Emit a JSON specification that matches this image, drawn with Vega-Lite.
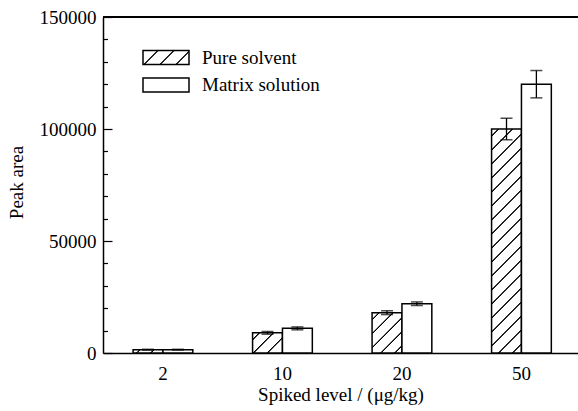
{
  "$schema": "https://vega.github.io/schema/vega-lite/v6.json",
  "width": 475,
  "height": 336,
  "autosize": {"type": "none"},
  "padding": {"left": 103, "top": 17, "right": 0, "bottom": 58},
  "background": "white",
  "config": {
    "view": {"stroke": null},
    "font": "Liberation Serif",
    "axis": {"labelOverlap": false, "labelFlush": false}
  },
  "resolve": {"scale": {"y": "shared"}, "axis": {"y": "independent"}},
  "data": {
    "values": [
      {"level": "2", "series": "Pure solvent", "value": 1500, "lo": 1350, "hi": 1650},
      {"level": "2", "series": "Matrix solution", "value": 1500, "lo": 1350, "hi": 1650},
      {"level": "10", "series": "Pure solvent", "value": 9000, "lo": 8400, "hi": 9600},
      {"level": "10", "series": "Matrix solution", "value": 11000, "lo": 10350, "hi": 11650},
      {"level": "20", "series": "Pure solvent", "value": 18000, "lo": 17150, "hi": 18850},
      {"level": "20", "series": "Matrix solution", "value": 22000, "lo": 21200, "hi": 22800},
      {"level": "50", "series": "Pure solvent", "value": 100000, "lo": 95200, "hi": 104800},
      {"level": "50", "series": "Matrix solution", "value": 120000, "lo": 113900, "hi": 126100}
    ]
  },
  "layer": [
    {
      "mark": {"type": "bar", "stroke": "black", "strokeWidth": 1.5},
      "encoding": {
        "x": {
          "field": "level", "type": "nominal",
          "scale": {"domain": ["2", "10", "20", "50"], "paddingInner": 0.5, "paddingOuter": 0.2375, "align": 0.53},
          "axis": {
            "title": "Spiked level / (μg/kg)",
            "labelAngle": 0, "ticks": false, "tickSize": 0,
            "domainColor": "black", "domainWidth": 1.5,
            "labelFont": "Liberation Serif", "labelFontSize": 19, "labelColor": "black",
            "labelPadding": 26, "labelBaseline": "alphabetic",
            "titleFont": "Liberation Serif", "titleFontSize": 19, "titleFontWeight": "normal", "titleColor": "black",
            "titleY": 47, "titleBaseline": "alphabetic"
          }
        },
        "xOffset": {
          "field": "series", "type": "nominal",
          "scale": {"domain": ["Pure solvent", "Matrix solution"], "paddingInner": 0, "paddingOuter": 0}
        },
        "y": {
          "field": "value", "type": "quantitative",
          "scale": {"domain": [0, 150000], "nice": false, "zero": true},
          "axis": {
            "orient": "left",
            "title": "Peak area",
            "values": [0, 50000, 100000, 150000],
            "format": "d",
            "labelOverlap": false,
            "tickSize": -9,
            "tickColor": "black", "tickWidth": 1.2,
            "domainColor": "black", "domainWidth": 1.5,
            "grid": false,
            "labelFont": "Liberation Serif", "labelFontSize": 19, "labelColor": "black",
            "labelPadding": 16,
            "titleFont": "Liberation Serif", "titleFontSize": 19, "titleFontWeight": "normal", "titleColor": "black",
            "titleX": -81, "titleY": 165, "titleAngle": -90, "titleBaseline": "alphabetic", "titleAlign": "center"
          }
        },
        "fill": {
          "field": "series", "type": "nominal",
          "scale": {"domain": ["Pure solvent", "Matrix solution"], "range": [{"expr": "{gradient: 'linear', x1: 0, y1: 0, x2: 1.1938, y2: 0.3633, stops: [{offset: 0, color: 'white'}, {offset: 0.23167, color: 'white'}, {offset: 0.24333, color: 'black'}, {offset: 0.25667, color: 'black'}, {offset: 0.26833, color: 'white'}, {offset: 0.49833, color: 'white'}, {offset: 0.51, color: 'black'}, {offset: 0.52333, color: 'black'}, {offset: 0.535, color: 'white'}, {offset: 0.765, color: 'white'}, {offset: 0.77667, color: 'black'}, {offset: 0.79, color: 'black'}, {offset: 0.80167, color: 'white'}, {offset: 1, color: 'white'}]}"}, "white"]},
          "legend": {
            "orient": "none", "legendX": 39, "legendY": 31, "title": null, "direction": "vertical",
            "symbolType": "M-1,-0.3043H1V0.3043H-1Z", "symbolSize": 2116,
            "symbolStrokeColor": "black", "symbolStrokeWidth": 1.5,
            "clipHeight": 19,
            "labelFont": "Liberation Serif", "labelFontSize": 19, "labelColor": "black",
            "labelOffset": 12, "rowPadding": 7.5, "padding": 0, "labelLimit": 300
          },
          "condition": [
            {"test": "datum.level === '2' && datum.series === 'Pure solvent'", "value": {"gradient": "linear", "x1": 0, "y1": 0, "x2": 1.0982, "y2": 0.1230, "stops": [
              {"offset": 0, "color": "white"},
              {"offset": 0.17686, "color": "white"}, {"offset": 0.19784, "color": "black"}, {"offset": 0.22182, "color": "black"}, {"offset": 0.24281, "color": "white"},
              {"offset": 0.59652, "color": "white"}, {"offset": 0.6175, "color": "black"}, {"offset": 0.64149, "color": "black"}, {"offset": 0.66247, "color": "white"},
              {"offset": 1, "color": "white"}
            ]}},
            {"test": "datum.level === '10' && datum.series === 'Pure solvent'", "value": {"gradient": "linear", "x1": 0, "y1": 0, "x2": 1.1518, "y2": 0.7740, "stops": [
              {"offset": 0, "color": "white"},
              {"offset": 0.11762, "color": "white"}, {"offset": 0.13158, "color": "black"}, {"offset": 0.14753, "color": "black"}, {"offset": 0.16148, "color": "white"},
              {"offset": 0.39673, "color": "white"}, {"offset": 0.41068, "color": "black"}, {"offset": 0.42663, "color": "black"}, {"offset": 0.44059, "color": "white"},
              {"offset": 0.67583, "color": "white"}, {"offset": 0.68979, "color": "black"}, {"offset": 0.70574, "color": "black"}, {"offset": 0.71969, "color": "white"},
              {"offset": 0.95494, "color": "white"}, {"offset": 0.96889, "color": "black"}, {"offset": 0.98484, "color": "black"}, {"offset": 0.9988, "color": "white"},
              {"offset": 1, "color": "white"}
            ]}},
            {"test": "datum.level === '20' && datum.series === 'Pure solvent'", "value": {"gradient": "linear", "x1": 0, "y1": 0, "x2": 0.8353, "y2": 1.1226, "stops": [
              {"offset": 0, "color": "white"},
              {"offset": 0.0839, "color": "white"}, {"offset": 0.09386, "color": "black"}, {"offset": 0.10523, "color": "black"}, {"offset": 0.11519, "color": "white"},
              {"offset": 0.283, "color": "white"}, {"offset": 0.29295, "color": "black"}, {"offset": 0.30433, "color": "black"}, {"offset": 0.31428, "color": "white"},
              {"offset": 0.48209, "color": "white"}, {"offset": 0.49205, "color": "black"}, {"offset": 0.50342, "color": "black"}, {"offset": 0.51338, "color": "white"},
              {"offset": 0.68119, "color": "white"}, {"offset": 0.69114, "color": "black"}, {"offset": 0.70252, "color": "black"}, {"offset": 0.71247, "color": "white"},
              {"offset": 0.88028, "color": "white"}, {"offset": 0.89023, "color": "black"}, {"offset": 0.90161, "color": "black"}, {"offset": 0.91157, "color": "white"},
              {"offset": 1, "color": "white"}
            ]}},
            {"test": "datum.level === '50' && datum.series === 'Pure solvent'", "value": {"gradient": "linear", "x1": 0, "y1": 0, "x2": 0.14919, "y2": 1.11395, "stops": [
              {"offset": 0, "color": "white"},
              {"offset": 0.02323, "color": "white"}, {"offset": 0.02598, "color": "black"}, {"offset": 0.02913, "color": "black"}, {"offset": 0.03189, "color": "white"},
              {"offset": 0.07835, "color": "white"}, {"offset": 0.0811, "color": "black"}, {"offset": 0.08425, "color": "black"}, {"offset": 0.08701, "color": "white"},
              {"offset": 0.13346, "color": "white"}, {"offset": 0.13622, "color": "black"}, {"offset": 0.13937, "color": "black"}, {"offset": 0.14213, "color": "white"},
              {"offset": 0.18858, "color": "white"}, {"offset": 0.19134, "color": "black"}, {"offset": 0.19449, "color": "black"}, {"offset": 0.19724, "color": "white"},
              {"offset": 0.2437, "color": "white"}, {"offset": 0.24646, "color": "black"}, {"offset": 0.24961, "color": "black"}, {"offset": 0.25236, "color": "white"},
              {"offset": 0.29882, "color": "white"}, {"offset": 0.30157, "color": "black"}, {"offset": 0.30472, "color": "black"}, {"offset": 0.30748, "color": "white"},
              {"offset": 0.35394, "color": "white"}, {"offset": 0.35669, "color": "black"}, {"offset": 0.35984, "color": "black"}, {"offset": 0.3626, "color": "white"},
              {"offset": 0.40906, "color": "white"}, {"offset": 0.41181, "color": "black"}, {"offset": 0.41496, "color": "black"}, {"offset": 0.41772, "color": "white"},
              {"offset": 0.46417, "color": "white"}, {"offset": 0.46693, "color": "black"}, {"offset": 0.47008, "color": "black"}, {"offset": 0.47283, "color": "white"},
              {"offset": 0.51929, "color": "white"}, {"offset": 0.52205, "color": "black"}, {"offset": 0.5252, "color": "black"}, {"offset": 0.52795, "color": "white"},
              {"offset": 0.57441, "color": "white"}, {"offset": 0.57717, "color": "black"}, {"offset": 0.58031, "color": "black"}, {"offset": 0.58307, "color": "white"},
              {"offset": 0.62953, "color": "white"}, {"offset": 0.63228, "color": "black"}, {"offset": 0.63543, "color": "black"}, {"offset": 0.63819, "color": "white"},
              {"offset": 0.68465, "color": "white"}, {"offset": 0.6874, "color": "black"}, {"offset": 0.69055, "color": "black"}, {"offset": 0.69331, "color": "white"},
              {"offset": 0.73976, "color": "white"}, {"offset": 0.74252, "color": "black"}, {"offset": 0.74567, "color": "black"}, {"offset": 0.74843, "color": "white"},
              {"offset": 0.79488, "color": "white"}, {"offset": 0.79764, "color": "black"}, {"offset": 0.80079, "color": "black"}, {"offset": 0.80354, "color": "white"},
              {"offset": 0.85, "color": "white"}, {"offset": 0.85276, "color": "black"}, {"offset": 0.85591, "color": "black"}, {"offset": 0.85866, "color": "white"},
              {"offset": 0.90512, "color": "white"}, {"offset": 0.90787, "color": "black"}, {"offset": 0.91102, "color": "black"}, {"offset": 0.91378, "color": "white"},
              {"offset": 0.96024, "color": "white"}, {"offset": 0.96299, "color": "black"}, {"offset": 0.96614, "color": "black"}, {"offset": 0.9689, "color": "white"},
              {"offset": 1, "color": "white"}
            ]}}
          ]
        }
      }
    },
    {
      "mark": {"type": "rule", "color": "black", "strokeWidth": 1.3},
      "encoding": {
        "x": {"field": "level", "type": "nominal"},
        "xOffset": {"field": "series", "type": "nominal"},
        "y": {
          "field": "lo", "type": "quantitative",
          "axis": {
            "orient": "left", "title": null, "labels": false, "domain": false, "grid": false,
            "values": [10000, 20000, 30000, 40000, 60000, 70000, 80000, 90000, 110000, 120000, 130000, 140000],
            "tickSize": -4.5, "tickColor": "black", "tickWidth": 1.2
          }
        },
        "y2": {"field": "hi"}
      }
    },
    {
      "mark": {"type": "tick", "color": "black", "size": 12, "thickness": 1.5, "orient": "horizontal"},
      "encoding": {
        "x": {"field": "level", "type": "nominal"},
        "xOffset": {"field": "series", "type": "nominal"},
        "y": {"field": "lo", "type": "quantitative", "axis": null}
      }
    },
    {
      "mark": {"type": "tick", "color": "black", "size": 12, "thickness": 1.5, "orient": "horizontal"},
      "encoding": {
        "x": {"field": "level", "type": "nominal"},
        "xOffset": {"field": "series", "type": "nominal"},
        "y": {"field": "hi", "type": "quantitative", "axis": null}
      }
    },
    {
      "mark": {"type": "rule", "color": "black", "strokeWidth": 1.5},
      "encoding": {
        "y": {"datum": 150000, "type": "quantitative", "axis": null}
      }
    }
  ]
}
